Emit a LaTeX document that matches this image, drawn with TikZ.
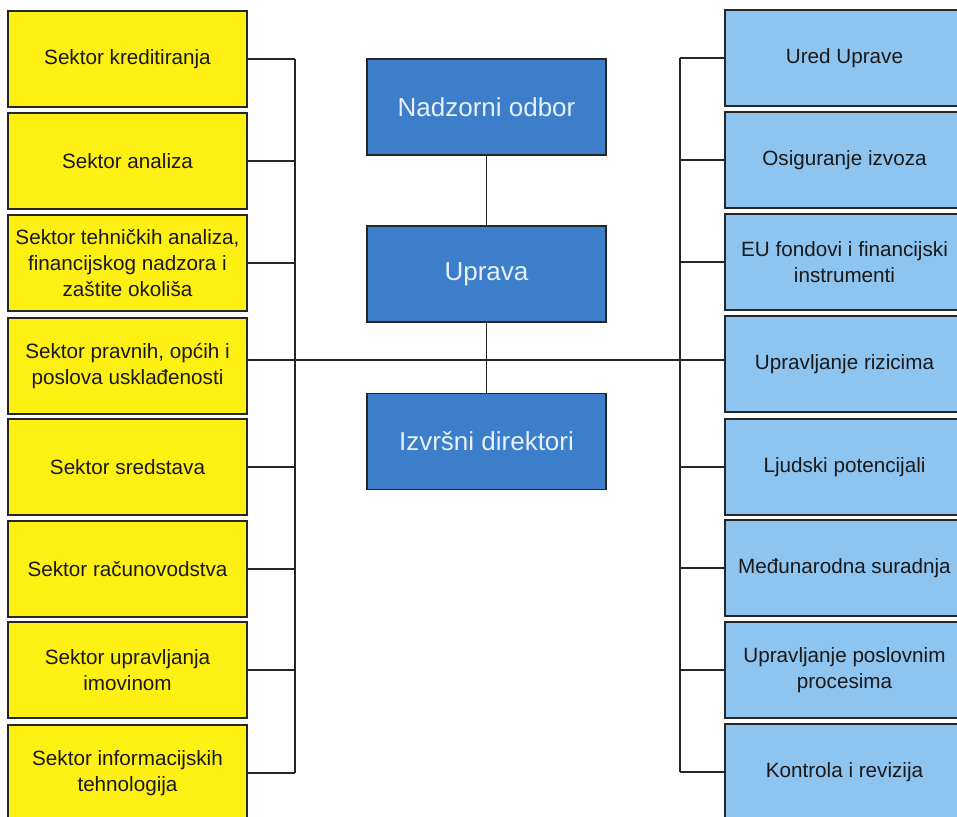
\documentclass[tikz,border=0pt]{standalone}
\usepackage{fontspec}
\setmainfont{Liberation Sans}
\definecolor{sektoryellow}{RGB}{255,240,20}
\definecolor{sluzbablue}{RGB}{142,196,240}
\definecolor{upravablue}{RGB}{60,126,202}
\definecolor{upravatext}{RGB}{232,240,250}
\tikzset{
    sektor/.style={draw=black!85, line width=1pt, fill=sektoryellow,
        minimum width=143.4pt, minimum height=57.6pt, align=center,
        inner sep=1pt, text=black!90,
        font=\fontsize{12.4}{15.6}\selectfont},
    sluzba/.style={sektor, fill=sluzbablue},
    tijelo/.style={sektor, fill=upravablue, text=upravatext,
        font=\fontsize{15.6}{18}\selectfont},
    veza/.style={draw=black!85, line width=0.9pt}
}
\begin{document}
\begin{tikzpicture}[x=0.6pt, y=-0.6pt]
        \useasboundingbox (0,0) rectangle (957,816);

        % lijevi stupac: sektori
        \node[sektor] (l1) at (127.5, 59) {Sektor kreditiranja};
        \node[sektor] (l2) at (127.5, 161) {Sektor analiza};
        \node[sektor] (l3) at (127.5, 263) {Sektor tehničkih analiza,\\financijskog nadzora i\\zaštite okoliša};
        \node[sektor] (l4) at (127.5, 366) {Sektor pravnih, općih i\\poslova usklađenosti};
        \node[sektor] (l5) at (127.5, 467) {Sektor sredstava};
        \node[sektor] (l6) at (127.5, 569) {Sektor računovodstva};
        \node[sektor] (l7) at (127.5, 670) {Sektor upravljanja\\imovinom};
        \node[sektor] (l8) at (127.5, 773) {Sektor informacijskih\\tehnologija};

        % desni stupac: sluzbe
        \node[sluzba] (r1) at (844.5, 58) {Ured Uprave};
        \node[sluzba] (r2) at (844.5, 160) {Osiguranje izvoza};
        \node[sluzba] (r3) at (844.5, 262) {EU fondovi i financijski\\instrumenti};
        \node[sluzba] (r4) at (844.5, 364) {Upravljanje rizicima};
        \node[sluzba] (r5) at (844.5, 467) {Ljudski potencijali};
        \node[sluzba] (r6) at (844.5, 568) {Međunarodna suradnja};
        \node[sluzba] (r7) at (844.5, 670) {Upravljanje poslovnim\\procesima};
        \node[sluzba] (r8) at (844.5, 772) {Kontrola i revizija};

        % sredina: tijela
        \node[tijelo] (NO) at (486.5, 107) {Nadzorni odbor};
        \node[tijelo] (UP) at (486.5, 274) {Uprava};
        \node[tijelo] (ID) at (486.5, 441.5) {Izvršni direktori};

        \coordinate (Lbus) at (295, 0);
        \coordinate (Rbus) at (680, 0);
        \coordinate (hub) at (486.5, 360);

        % sabirnice
        \draw[veza] (l1.east -| Lbus) -- (l8.east -| Lbus);
        \draw[veza] (r1.west -| Rbus) -- (r8.west -| Rbus);
        \foreach \i in {1,2,3,5,6,7,8} {
            \draw[veza] (l\i.east) -- (l\i.east -| Lbus);
            \draw[veza] (r\i.west) -- (r\i.west -| Rbus);
        }

        \draw[veza] (NO) -- (UP);
        \draw[veza] (UP) -- (ID);
        \draw[veza] (l4.east |- hub) -- (r4.west |- hub);

    \end{tikzpicture}
\end{document}
